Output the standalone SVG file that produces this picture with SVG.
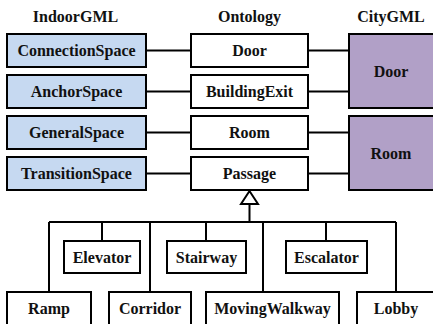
<svg xmlns="http://www.w3.org/2000/svg" width="433" height="324" viewBox="0 0 433 324">
<style>
text{font-family:"Liberation Serif","Times New Roman",serif;font-weight:bold;font-size:16px;fill:#111;text-anchor:middle}
.b{stroke:#000;stroke-width:2}
.ig{fill:#c6d9f1}
.on{fill:#fff}
.cg{fill:#b1a0c7}
.c{stroke:#000;stroke-width:2;fill:none}
</style>
<rect width="433" height="324" fill="#fff"/>
<g id="headers">
<text x="75.5" y="22">IndoorGML</text>
<text x="249.5" y="22">Ontology</text>
<text x="391" y="22">CityGML</text>
</g>
<g id="connectors">
<path class="c" d="M146 50.5H191M146 91.5H191M146 132.5H191M146 173.5H191"/>
<path class="c" d="M308 50.5H349M308 91.5H349M308 132.5H349M308 173.5H349"/>
<path class="c" d="M249.5 204V222M49 222H396M49 222V292M102 222V241M150 222V292M206 222V241M263 222V292M326 222V241M396 222V292"/>
<polygon class="c" fill="#fff" points="249.5,191 241,204 258,204"/>
</g>
<g id="ConnectionSpace"><rect class="b ig" x="7" y="34" width="139" height="33"/><text x="76.5" y="56">ConnectionSpace</text></g>
<g id="AnchorSpace"><rect class="b ig" x="7" y="75" width="139" height="33"/><text x="76.5" y="97">AnchorSpace</text></g>
<g id="GeneralSpace"><rect class="b ig" x="7" y="116" width="139" height="33"/><text x="76.5" y="138">GeneralSpace</text></g>
<g id="TransitionSpace"><rect class="b ig" x="7" y="157" width="139" height="33"/><text x="76.5" y="179">TransitionSpace</text></g>
<g id="OntDoor"><rect class="b on" x="191" y="34" width="117" height="33"/><text x="249.5" y="56">Door</text></g>
<g id="BuildingExit"><rect class="b on" x="191" y="75" width="117" height="33"/><text x="249.5" y="97">BuildingExit</text></g>
<g id="OntRoom"><rect class="b on" x="191" y="116" width="117" height="33"/><text x="249.5" y="138">Room</text></g>
<g id="Passage"><rect class="b on" x="191" y="157" width="117" height="33"/><text x="249.5" y="179">Passage</text></g>
<g id="CityDoor"><rect class="b cg" x="349" y="34" width="90" height="74"/><text x="391" y="77">Door</text></g>
<g id="CityRoom"><rect class="b cg" x="349" y="116" width="90" height="74"/><text x="391" y="159">Room</text></g>
<g id="Elevator"><rect class="b on" x="64" y="241" width="76" height="32"/><text x="102" y="263">Elevator</text></g>
<g id="Stairway"><rect class="b on" x="167" y="241" width="79" height="32"/><text x="206.5" y="263">Stairway</text></g>
<g id="Escalator"><rect class="b on" x="286" y="241" width="81" height="32"/><text x="326.5" y="263">Escalator</text></g>
<g id="Ramp"><rect class="b on" x="7" y="292" width="84" height="40"/><text x="49" y="314">Ramp</text></g>
<g id="Corridor"><rect class="b on" x="109" y="292" width="82" height="40"/><text x="150" y="314">Corridor</text></g>
<g id="MovingWalkway"><rect class="b on" x="206" y="292" width="133" height="40"/><text x="272.5" y="314">MovingWalkway</text></g>
<g id="Lobby"><rect class="b on" x="357" y="292" width="83" height="40"/><text x="396" y="314">Lobby</text></g>
</svg>
